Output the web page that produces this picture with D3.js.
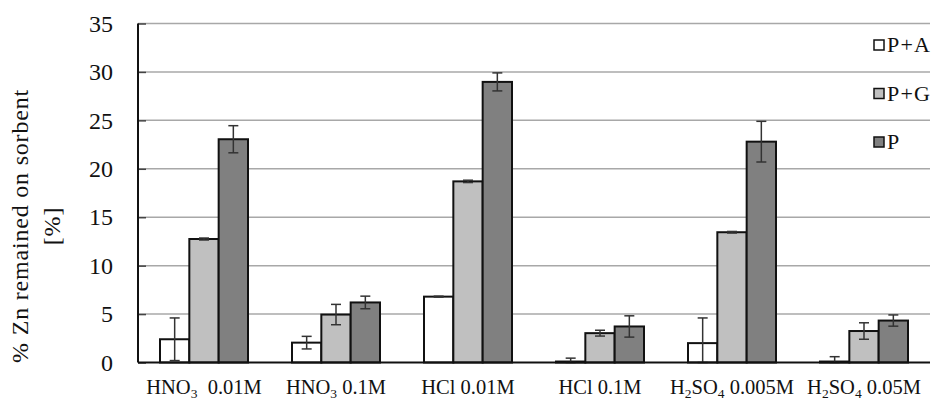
<!DOCTYPE html>
<html>
<head>
<meta charset="utf-8">
<script src="https://cdn.jsdelivr.net/npm/d3@7"></script>
<style>
  body { margin: 0; background: #fff; }
</style>
</head>
<body>
<div id="container"></div>
<script>
// Data
const categories = ["HNO3 0.01M", "HNO3 0.1M", "HCl 0.01M", "HCl 0.1M", "H2SO4 0.005M", "H2SO4 0.05M"];
// label pieces: [text, isSubscript]
const categoryLabels = [
  [["HNO", false], ["3", true], ["  0.01M", false]],
  [["HNO", false], ["3", true], [" 0.1M", false]],
  [["HCl 0.01M", false]],
  [["HCl 0.1M", false]],
  [["H", false], ["2", true], ["SO", false], ["4", true], [" 0.005M", false]],
  [["H", false], ["2", true], ["SO", false], ["4", true], [" 0.05M", false]]
];
const seriesNames = ["P+A", "P+G", "P"];
const seriesColors = ["#ffffff", "#c0c0c0", "#808080"];
const valuesPA = [2.4, 2.05, 6.8, 0.1, 2.0, 0.1];
const valuesPG = [12.75, 4.95, 18.7, 3.03, 13.45, 3.25];
const valuesP = [23.05, 6.2, 28.97, 3.72, 22.8, 4.33];
const errorsPA = [2.2, 0.65, 0.05, 0.35, 2.6, 0.5];
const errorsPG = [0.1, 1.05, 0.12, 0.3, 0.08, 0.85];
const errorsP = [1.4, 0.65, 0.93, 1.1, 2.1, 0.58];
const yTicks = [0, 5, 10, 15, 20, 25, 30, 35];

const seriesValues = [valuesPA, valuesPG, valuesP];
const seriesErrors = [errorsPA, errorsPG, errorsP];

const FONT = '"Liberation Serif"';

// Layout
const width = 942;
const height = 400;
const plotLeft = 138;
const plotRight = 930;
const plotTop = 23.5;
const plotBottom = 362.5;

const svg = d3
  .select("#container")
  .append("svg")
  .attr("width", width)
  .attr("height", height);

// Scales
const x0 = d3.scaleBand()
  .domain(categories)
  .range([plotLeft, plotRight])
  .paddingInner(1 / 3)
  .paddingOuter(1 / 6);

const x1 = d3.scaleBand()
  .domain(seriesNames)
  .range([0, x0.bandwidth()]);

const y = d3.scaleLinear().domain([0, 35]).range([plotBottom, plotTop]);

// Gridlines
svg.append("g")
  .selectAll("line")
  .data(yTicks.filter((d) => d > 0))
  .enter()
  .append("line")
  .attr("x1", plotLeft)
  .attr("x2", plotRight)
  .attr("y1", (d) => y(d))
  .attr("y2", (d) => y(d))
  .attr("stroke", "#a8a8a8")
  .attr("stroke-width", 1.5);

// Y axis
const yAxis = d3.axisLeft(y).tickValues(yTicks).tickSize(-8).tickPadding(25);
const yg = svg.append("g")
  .attr("transform", `translate(${plotLeft},0)`)
  .call(yAxis);
yg.select(".domain").remove();
yg.selectAll(".tick line").attr("stroke", "#444").attr("stroke-width", 1.5);
yg.selectAll(".tick text")
  .style("font-family", FONT)
  .style("font-size", "24px")
  .attr("fill", "#111");

svg.append("line")
  .attr("x1", plotLeft).attr("x2", plotLeft)
  .attr("y1", plotTop).attr("y2", plotBottom)
  .attr("stroke", "#111").attr("stroke-width", 2);

// Bars
const groups = svg.append("g")
  .selectAll("g")
  .data(categories)
  .enter()
  .append("g")
  .attr("transform", (d) => `translate(${x0(d)},0)`);

groups.each(function (cat, ci) {
  const g = d3.select(this);
  seriesNames.forEach((s, si) => {
    const v = seriesValues[si][ci];
    g.append("rect")
      .attr("x", x1(s))
      .attr("y", y(v))
      .attr("width", x1.bandwidth())
      .attr("height", y(0) - y(v))
      .attr("fill", seriesColors[si])
      .attr("stroke", "#111")
      .attr("stroke-width", 2);
  });
  seriesNames.forEach((s, si) => {
    const v = seriesValues[si][ci];
    const e = seriesErrors[si][ci];
    const cx = x1(s) + x1.bandwidth() / 2;
    const lo = Math.max(0, v - e);
    const hi = v + e;
    g.append("line")
      .attr("x1", cx).attr("x2", cx)
      .attr("y1", y(lo)).attr("y2", y(hi))
      .attr("stroke", "#333").attr("stroke-width", 1.5);
    [lo, hi].forEach((t) => {
      g.append("line")
        .attr("x1", cx - 5).attr("x2", cx + 5)
        .attr("y1", y(t)).attr("y2", y(t))
        .attr("stroke", "#333").attr("stroke-width", 1.5);
    });
  });
});

// X axis baseline
svg.append("line")
  .attr("x1", plotLeft).attr("x2", plotRight)
  .attr("y1", plotBottom).attr("y2", plotBottom)
  .attr("stroke", "#111").attr("stroke-width", 2);

// Category labels
categories.forEach((c, i) => {
  const t = svg.append("text")
    .attr("x", x0(c) + x0.bandwidth() / 2)
    .attr("y", 394)
    .attr("text-anchor", "middle")
    .attr("fill", "#111")
    .style("font-family", FONT)
    .style("font-size", "20.5px")
    .style("white-space", "pre");
  categoryLabels[i].forEach(([txt, sub], k) => {
    const prevSub = k > 0 && categoryLabels[i][k - 1][1];
    t.append("tspan")
      .style("font-size", sub ? "13.5px" : "20.5px")
      .attr("dy", sub ? 4 : (prevSub ? -4 : 0))
      .text(txt);
  });
});

// Y axis title
const title = svg.append("text")
  .attr("transform", "translate(0,226) rotate(-90)")
  .attr("text-anchor", "middle")
  .attr("fill", "#111")
  .style("font-family", FONT)
  .style("font-size", "24px")
  .style("letter-spacing", "0.8px");
title.append("tspan").attr("x", 0).attr("y", 28).text("% Zn remained on sorbent");
title.append("tspan").attr("x", 0).attr("y", 60).text("[%]");

// Legend
const legend = svg.append("g").attr("id", "legend");
legend.selectAll("rect")
  .data(seriesNames)
  .enter()
  .append("rect")
  .attr("x", 874)
  .attr("y", (d, i) => 40 + i * 48.5)
  .attr("width", 10)
  .attr("height", 10)
  .attr("fill", (d, i) => seriesColors[i])
  .attr("stroke", "#111")
  .attr("stroke-width", 1.5);
legend.selectAll("text")
  .data(seriesNames)
  .enter()
  .append("text")
  .attr("x", 887)
  .attr("y", (d, i) => 52 + i * 48.5)
  .attr("fill", "#111")
  .style("font-family", FONT)
  .style("font-size", "22px")
  .style("letter-spacing", "1.2px")
  .text((d) => d);
</script>
</body>
</html>
